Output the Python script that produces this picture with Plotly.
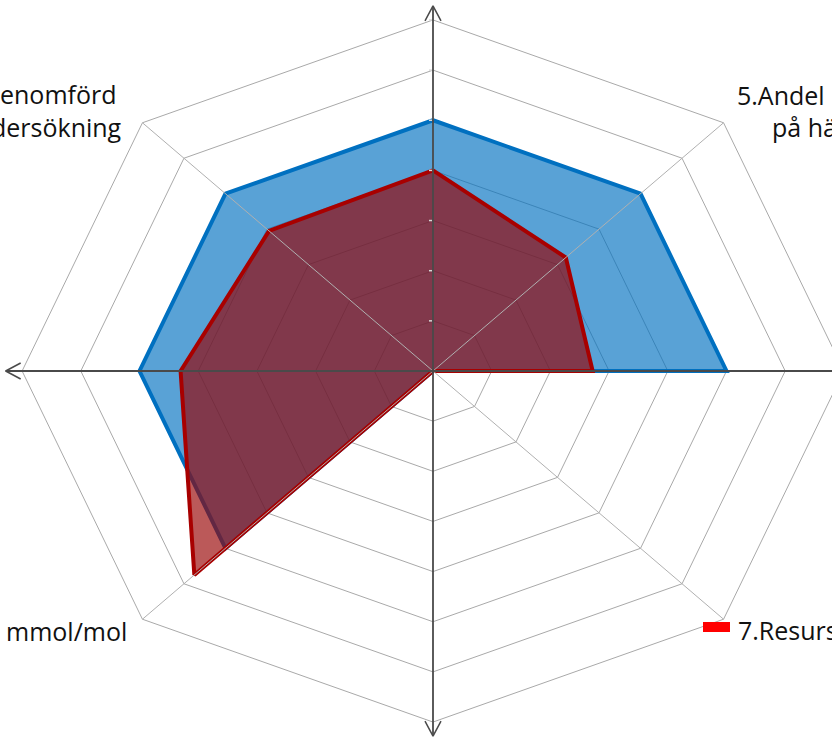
import numpy as np
import plotly.graph_objects as go

# ---------------- data ----------------
axis_angles_deg = [0, 45, 90, 135, 180, 225, 270, 315]   # clockwise from top
blue_values = [5.0, 5.0, 5.0, 0.0, 0.0, 5.0, 5.0, 5.0]
red_values = [4.0, 3.2, 2.72, 0.0, 0.0, 5.75, 4.3, 3.95]
ring_levels = [1, 2, 3, 4, 5, 6, 7]
series_names = ["Serie 1", "Serie 2"]

label_top_left = ["enomförd", "dersökning"]
label_top_right = ["5.Andel", "på hä"]
label_bottom_left = ["mmol/mol"]
label_bottom_right = ["7.Resurs"]

# ---------------- geometry / style ----------------
W, H = 832, 737
CX, CY = 433.0, 371.0      # pixel centre
SX, SY = 58.7, 50.15       # pixels per unit (chart is stretched horizontally)
R_MAX = max(ring_levels)
ARROW_R = 7.28

theta = np.radians(axis_angles_deg)


def to_xy(values):
    v = np.asarray(values, dtype=float)
    x = v * np.sin(theta)
    y = v * np.cos(theta)
    return np.append(x, x[0]), np.append(y, y[0])


fig = go.Figure()

# octagonal grid rings (below the series)
for lvl in ring_levels:
    gx, gy = to_xy([lvl] * len(theta))
    fig.add_trace(go.Scatter(x=gx, y=gy, mode="lines",
                             line=dict(color="#A9A9A9", width=1),
                             hoverinfo="skip", showlegend=False))

# series
bx, by = to_xy(blue_values)
fig.add_trace(go.Scatter(x=bx, y=by, mode="lines", fill="toself",
                         fillcolor="rgba(0,112,192,0.65)",
                         line=dict(color="#0070C0", width=4),
                         name=series_names[0], showlegend=False))
rx, ry = to_xy(red_values)
fig.add_trace(go.Scatter(x=rx, y=ry, mode="lines", fill="toself",
                         fillcolor="rgba(150,0,0,0.65)",
                         line=dict(color="#A80000", width=4),
                         name=series_names[1], showlegend=False))

# diagonal spokes (on top)
for a in theta:
    if abs(np.sin(a)) > 0.1 and abs(np.cos(a)) > 0.1:
        fig.add_trace(go.Scatter(x=[0, R_MAX * np.sin(a)], y=[0, R_MAX * np.cos(a)],
                                 mode="lines", line=dict(color="#B0B0B0", width=1),
                                 hoverinfo="skip", showlegend=False))

# main axes with open arrowheads
ax_color = "#4A4A4A"
fig.add_trace(go.Scatter(x=[0, 0], y=[-ARROW_R, ARROW_R], mode="lines",
                         line=dict(color=ax_color, width=1.8),
                         hoverinfo="skip", showlegend=False))
fig.add_trace(go.Scatter(x=[-ARROW_R, ARROW_R], y=[0, 0], mode="lines",
                         line=dict(color=ax_color, width=1.8),
                         hoverinfo="skip", showlegend=False))
alen, awid = 15.0, 8.0   # px
for sgn in (1, -1):
    # vertical arrows
    fig.add_trace(go.Scatter(
        x=[-awid / SX, 0, awid / SX],
        y=[sgn * (ARROW_R - alen / SY), sgn * ARROW_R, sgn * (ARROW_R - alen / SY)],
        mode="lines", line=dict(color=ax_color, width=1.5),
        hoverinfo="skip", showlegend=False))
    # horizontal arrows
    fig.add_trace(go.Scatter(
        x=[sgn * (ARROW_R - alen / SX), sgn * ARROW_R, sgn * (ARROW_R - alen / SX)],
        y=[-awid / SY, 0, awid / SY],
        mode="lines", line=dict(color=ax_color, width=1.5),
        hoverinfo="skip", showlegend=False))

# small tick marks on the vertical axis
tx, ty = [], []
for lvl in ring_levels:
    tx += [-4.0 / SX, -1.0 / SX, None]
    ty += [lvl, lvl, None]
fig.add_trace(go.Scatter(x=tx, y=ty, mode="lines",
                         line=dict(color="#D8D8D8", width=1.5),
                         hoverinfo="skip", showlegend=False, connectgaps=False))

# ---------------- text ----------------
font = dict(family="Open Sans", size=25, color="#111111")


def ann(text, px, py, xanchor):
    fig.add_annotation(text=text, x=px / W, y=1 - py / H, xref="paper", yref="paper",
                       xanchor=xanchor, yanchor="middle", showarrow=False, font=font)


ann(label_top_left[0], 119, 94, "right")
ann(label_top_left[1], 124, 127, "right")
ann(label_top_right[0], 735, 95, "left")
ann(label_top_right[1], 770, 127, "left")
ann(label_bottom_left[0], 129, 631, "right")
ann(label_bottom_right[0], 736, 630, "left")

fig.add_shape(type="rect", xref="paper", yref="paper",
              x0=703 / W, x1=730 / W, y0=1 - 632 / H, y1=1 - 622 / H,
              fillcolor="#FF0000", line=dict(width=0))

fig.update_layout(
    width=W, height=H,
    margin=dict(l=0, r=0, t=0, b=0),
    paper_bgcolor="white", plot_bgcolor="white",
    xaxis=dict(range=[-CX / SX, (W - CX) / SX], visible=False, fixedrange=True),
    yaxis=dict(range=[-(H - CY) / SY, CY / SY], visible=False, fixedrange=True),
    showlegend=False,
)

fig.write_html("out.html", config={"displayModeBar": False},
               post_script="document.body.style.margin='0';document.body.style.overflow='hidden';")
